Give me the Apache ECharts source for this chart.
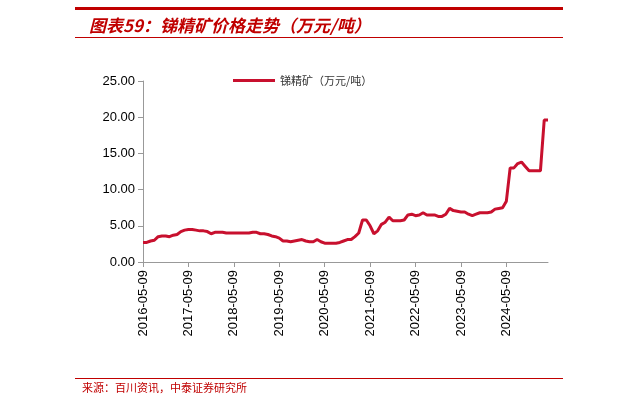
<!DOCTYPE html>
<html><head><meta charset="utf-8">
<script src="https://cdn.jsdelivr.net/npm/echarts@6/dist/echarts.min.js"></script>
<style>html,body{margin:0;padding:0;background:#fff}#c{width:621px;height:407px}</style>
</head><body><div id="c"></div>
<script>
const startYear = 2016, startMonth = 5;
const values = [
2.7,2.7,2.9,3.0,3.5,3.6,3.6,3.5,3.7,3.8,4.2,4.4,
4.5,4.5,4.4,4.3,4.3,4.2,3.9,4.1,4.1,4.1,4.0,4.0,
4.0,4.0,4.0,4.0,4.0,4.1,4.1,3.9,3.9,3.8,3.6,3.5,
3.3,2.9,2.9,2.8,2.9,3.0,3.1,2.9,2.8,2.8,3.1,2.8,
2.6,2.6,2.6,2.6,2.7,2.9,3.1,3.1,3.5,4.0,5.8,5.8,
5.0,3.9,4.3,5.2,5.5,6.2,5.7,5.7,5.7,5.8,6.5,6.6,
6.4,6.5,6.8,6.5,6.5,6.5,6.3,6.3,6.6,7.4,7.1,7.0,
6.9,6.9,6.6,6.4,6.6,6.8,6.8,6.8,6.9,7.3,7.4,7.5,
8.4,13.0,13.0,13.6,13.8,13.2,12.6,12.6,12.6,12.6,19.6,19.6
];
const categories = values.map((v,i)=>{const m=startMonth-1+i;const y=startYear+Math.floor(m/12);const mm=m%12+1;return y+'-'+String(mm).padStart(2,'0')+'-09';});
const seriesName = '锑精矿（万元/吨）';
const red = '#C8102E';
const chart = echarts.init(document.getElementById('c'));
chart.setOption({
  animation:false,
  title:{text:'图表59：锑精矿价格走势（万元/吨）',left:84,top:12,textStyle:{color:'#C00000',fontSize:17,fontStyle:'italic',fontWeight:'bold',fontFamily:'Noto Sans CJK SC'}},
  graphic:[
    {type:'rect',shape:{x:75,y:7,width:488,height:3},style:{fill:'#C00000'}},
    {type:'rect',shape:{x:75,y:37,width:488,height:1},style:{fill:'#C00000'}},
    {type:'rect',shape:{x:75,y:378,width:488,height:1},style:{fill:'#C00000'}},
    {type:'text',left:82,top:382,style:{text:'来源：百川资讯，中泰证券研究所',fill:'#C00000',fontSize:11,fontFamily:'Noto Sans CJK SC'}}
  ],
  legend:{data:[seriesName],left:228,top:70,itemWidth:42,itemHeight:3,icon:'rect',textStyle:{fontSize:11,color:'#333',fontFamily:'Noto Sans CJK SC'}},
  grid:{left:143,right:73,top:81,bottom:145,containLabel:false},
  xAxis:{type:'category',data:categories,boundaryGap:false,
    axisLine:{lineStyle:{color:'#999'}},
    axisTick:{interval:11,lineStyle:{color:'#999'},length:5},
    axisLabel:{interval:11,rotate:90,color:'#000',fontSize:13,fontFamily:'Liberation Sans',margin:8}},
  yAxis:{type:'value',min:0,max:25,interval:5,
    axisLine:{show:true,lineStyle:{color:'#999'}},axisTick:{show:true,lineStyle:{color:'#999'}},
    splitLine:{show:false},
    axisLabel:{formatter:v=>v.toFixed(2),color:'#000',fontSize:13,fontFamily:'Liberation Sans'}},
  series:[{name:seriesName,type:'line',data:values,showSymbol:false,lineStyle:{color:red,width:3},itemStyle:{color:red}}]
});
</script></body></html>
